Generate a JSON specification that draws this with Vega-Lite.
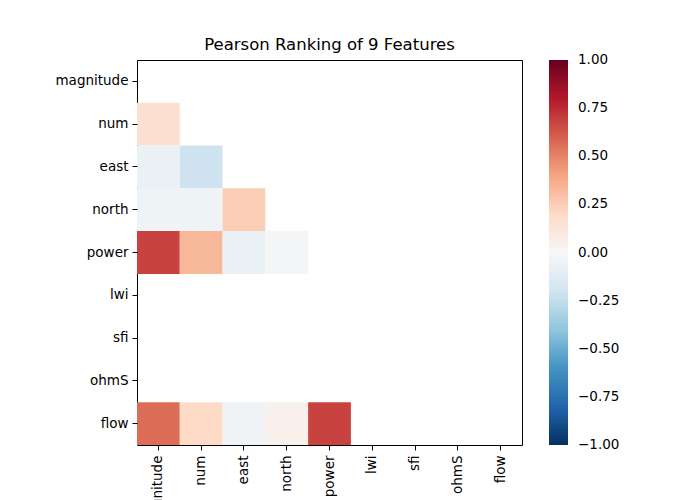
{
  "$schema": "https://vega.github.io/schema/vega-lite/v6.json",
  "autosize": {"type": "none"},
  "width": 385,
  "height": 385,
  "padding": {"left": 137, "top": 60, "right": 178, "bottom": 55},
  "background": "white",
  "title": {"text": "Pearson Ranking of 9 Features", "font": "DejaVu Sans", "fontSize": 16.5, "fontWeight": "normal", "color": "black", "offset": 7},
  "data": {
    "values": [
      {"row": "num", "col": "magnitude", "r": 0.16},
      {"row": "east", "col": "magnitude", "r": -0.07},
      {"row": "east", "col": "num", "r": -0.21},
      {"row": "north", "col": "magnitude", "r": -0.05},
      {"row": "north", "col": "num", "r": -0.05},
      {"row": "north", "col": "east", "r": 0.25},
      {"row": "power", "col": "magnitude", "r": 0.68},
      {"row": "power", "col": "num", "r": 0.33},
      {"row": "power", "col": "east", "r": -0.07},
      {"row": "power", "col": "north", "r": -0.02},
      {"row": "flow", "col": "magnitude", "r": 0.56},
      {"row": "flow", "col": "num", "r": 0.2},
      {"row": "flow", "col": "east", "r": -0.04},
      {"row": "flow", "col": "north", "r": 0.05},
      {"row": "flow", "col": "power", "r": 0.68}
    ]
  },
  "mark": {"type": "rect"},
  "encoding": {
    "x": {
      "field": "col", "type": "nominal",
      "scale": {"domain": ["magnitude", "num", "east", "north", "power", "lwi", "sfi", "ohmS", "flow"], "paddingInner": 0, "paddingOuter": 0},
      "axis": {"title": null, "labelAngle": -90, "labelAlign": "right", "labelBaseline": "middle", "labelFont": "DejaVu Sans", "labelFontSize": 13.5, "labelColor": "black", "tickColor": "black", "tickSize": 5, "domain": false, "labelPadding": 5}
    },
    "y": {
      "field": "row", "type": "nominal",
      "scale": {"domain": ["magnitude", "num", "east", "north", "power", "lwi", "sfi", "ohmS", "flow"], "paddingInner": 0, "paddingOuter": 0},
      "axis": {"title": null, "labelFont": "DejaVu Sans", "labelFontSize": 13.5, "labelColor": "black", "tickColor": "black", "tickSize": 5, "domain": false, "labelPadding": 4}
    },
    "color": {
      "field": "r", "type": "quantitative",
      "scale": {
        "domain": [-1, -0.8, -0.6, -0.4, -0.2, 0, 0.2, 0.4, 0.6, 0.8, 1],
        "range": ["#053061", "#2166ac", "#4393c3", "#92c5de", "#d1e5f0", "#f7f7f7", "#fddbc7", "#f4a582", "#d6604d", "#b2182b", "#67001f"],
        "interpolate": "rgb"
      },
      "legend": {
        "title": null,
        "orient": "none",
        "legendX": 412,
        "legendY": 0,
        "padding": 0,
        "direction": "vertical",
        "gradientLength": 385,
        "gradientThickness": 19,
        "gradientStrokeWidth": 0,
        "values": [-1, -0.75, -0.5, -0.25, 0, 0.25, 0.5, 0.75, 1],
        "format": ".2f",
        "labelFont": "DejaVu Sans",
        "labelFontSize": 13.5,
        "labelColor": "black",
        "labelOverlap": false,
        "encode": {
          "labels": {
            "update": {
              "align": {"value": "left"},
              "baseline": {"value": "middle"},
              "x": {"value": 29}
            }
          }
        }
      }
    }
  },
  "config": {
    "view": {"stroke": "black", "strokeWidth": 1},
    "axis": {"grid": false}
  }
}
